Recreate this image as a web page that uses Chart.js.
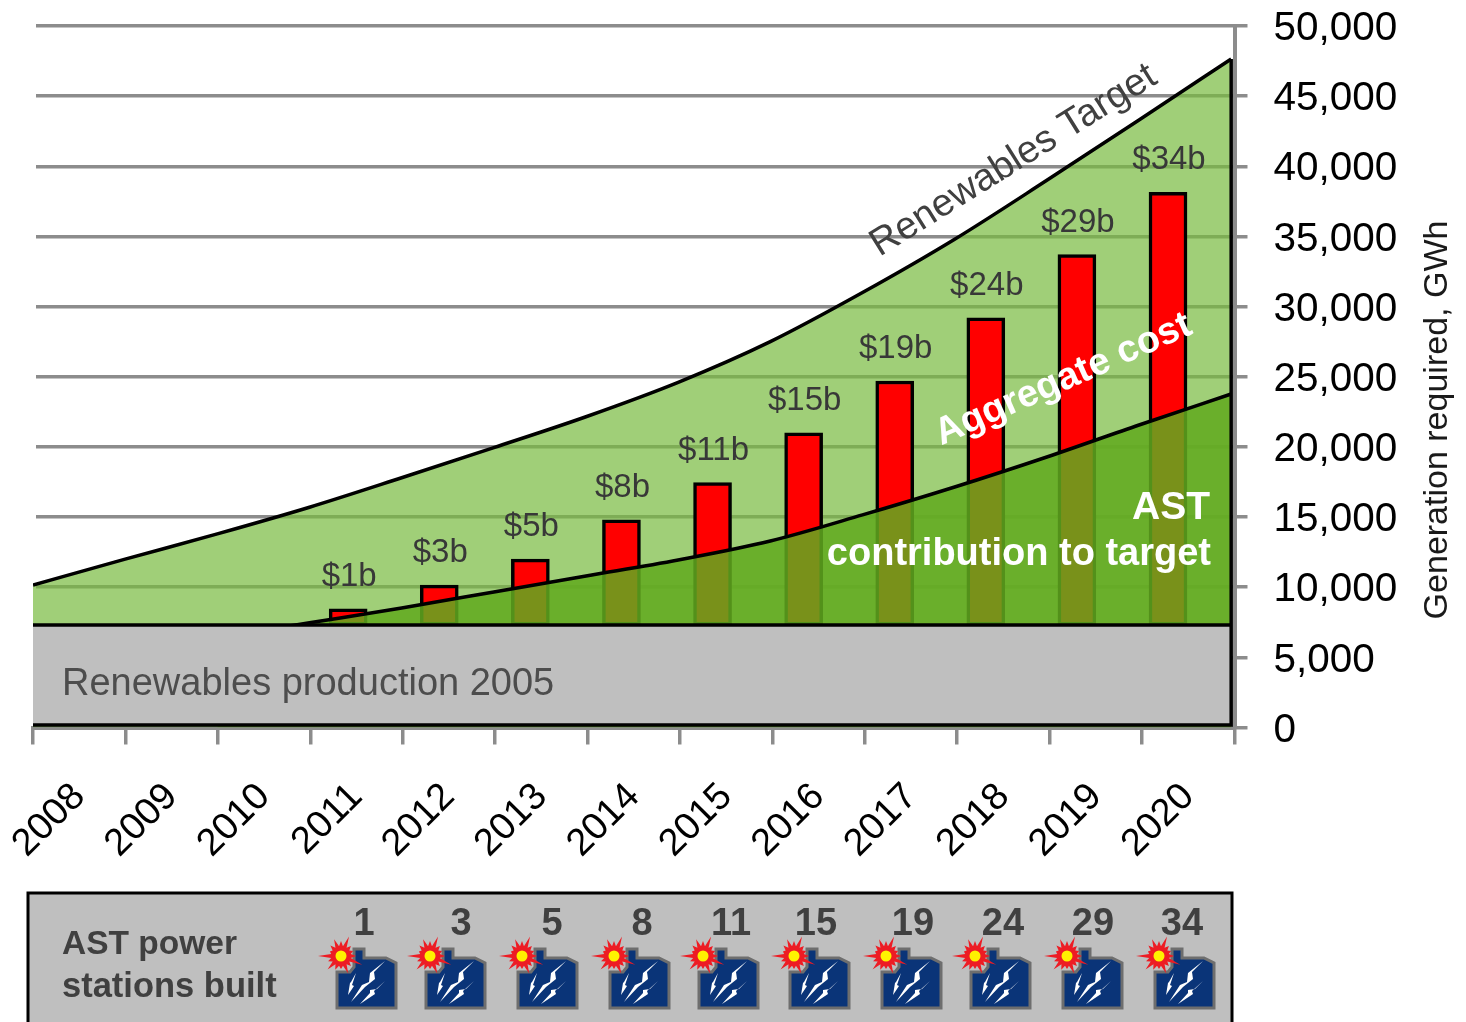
<!DOCTYPE html>
<html>
<head>
<meta charset="utf-8">
<title>AST contribution to renewables target</title>
<script src="https://cdn.jsdelivr.net/npm/chart.js@4"></script>
<style>
  html, body { margin: 0; padding: 0; background: #fff; }
  canvas { display: block; }
</style>
</head>
<body>
<canvas id="chart" width="1466" height="1022"></canvas>
<script>
const yearLabels = ["2008", "2009", "2010", "2011", "2012", "2013", "2014", "2015", "2016", "2017", "2018", "2019", "2020"];

// curves are read at the year boundaries, 2008 to 2021
const curveYears = [2008, 2009, 2010, 2011, 2012, 2013, 2014, 2015, 2016, 2017, 2018, 2019, 2020, 2021];
const targetValues = [10150, 12000, 13800, 15700, 17800, 19950, 22150, 24600, 27500, 31000, 34800, 39000, 43300, 47650];
const astValues = [null, null, 6400, 7460, 8520, 9660, 10800, 11940, 13290, 15150, 17140, 19280, 21560, 23770];
const baseProduction = 7300;
const baseFloor = 180;

const barYears = [2011, 2012, 2013, 2014, 2015, 2016, 2017, 2018, 2019, 2020];
const barTops = [8450, 10150, 12000, 14800, 17450, 21000, 24700, 29200, 33700, 38150];
const costLabels = ["$1b", "$3b", "$5b", "$8b", "$11b", "$15b", "$19b", "$24b", "$29b", "$34b"];
const stationCounts = ["1", "3", "5", "8", "11", "15", "19", "24", "29", "34"];

const FONT = '"Liberation Sans", Arial, sans-serif';
const GRID = "#8c8c8c";
const TEXT = "#404040";

function points(years, values) {
  return years.map((x, i) => ({ x: x, y: values[i] }));
}

function label(ctx, text, x, y, font, color, angle, align) {
  ctx.save();
  ctx.translate(x, y);
  ctx.rotate((angle || 0) * Math.PI / 180);
  ctx.font = font + " " + FONT;
  ctx.fillStyle = color;
  ctx.textAlign = align || "left";
  ctx.textBaseline = "middle";
  ctx.fillText(text, 0, 0);
  ctx.restore();
}

function poly(ctx, x, y, pts) {
  ctx.beginPath();
  pts.forEach((p, i) => {
    if (i === 0) ctx.moveTo(x + p[0], y + p[1]);
    else ctx.lineTo(x + p[0], y + p[1]);
  });
  ctx.closePath();
}

// power station icon: x,y is the top left of the building
function drawStation(ctx, x, y) {
  poly(ctx, x, y, [[17, 0], [27, 0], [27, 9], [49, 9], [59, 14], [59, 59], [0, 59], [0, 23], [13, 23], [17, 18]]);
  ctx.fillStyle = "#0a3478";
  ctx.fill();
  ctx.strokeStyle = "#6e6e6e";
  ctx.lineWidth = 3;
  ctx.stroke();

  ctx.fillStyle = "#fff";
  poly(ctx, x, y, [[48, 12], [37, 23], [38, 30], [28, 38], [14, 53], [25, 36], [32, 33], [33, 24]]);
  ctx.fill();
  poly(ctx, x, y, [[48, 32], [37, 42], [38, 45], [23, 55], [33, 44], [33, 41], [40, 40]]);
  ctx.fill();
  poly(ctx, x, y, [[19, 24], [15, 36], [17, 37], [11, 46], [13, 34], [14, 33]]);
  ctx.fill();

  // the red burst on the corner
  const spikes = [23, 12, 15, 18, 15, 21, 14, 13, 15, 23, 14, 19, 13, 15, 19, 14];
  const cx = x + 4, cy = y + 7;
  ctx.beginPath();
  spikes.forEach((r, i) => {
    const a1 = (i / spikes.length) * Math.PI * 2 + Math.PI;
    const a2 = ((i + 0.5) / spikes.length) * Math.PI * 2 + Math.PI;
    ctx.lineTo(cx + Math.cos(a1) * r, cy + Math.sin(a1) * r);
    ctx.lineTo(cx + Math.cos(a2) * 10, cy + Math.sin(a2) * 10);
  });
  ctx.closePath();
  ctx.fillStyle = "#ed1c24";
  ctx.fill();
  ctx.beginPath();
  ctx.arc(cx, cy, 5.5, 0, Math.PI * 2);
  ctx.fillStyle = "#fff200";
  ctx.fill();
}

const annotations = {
  id: "annotations",
  beforeDatasetsDraw(chart) {
    // gridlines start a few pixels in from the area edge
    chart.ctx.fillStyle = "#fff";
    chart.ctx.fillRect(30, 20, 6, 600);
  },
  afterDraw(chart) {
    const ctx = chart.ctx;
    const bars = chart.getDatasetMeta(2).data;

    bars.forEach((bar, i) => {
      label(ctx, costLabels[i], bar.x + 1, bar.y - 32, "33px", "#383838", 0, "center");
    });

    label(ctx, "Renewables production 2005", 62, 685, "38px", "#4d4d4d");
    label(ctx, "Renewables Target", 874, 248, "38.5px", TEXT, -32);
    label(ctx, "Aggregate cost", 937, 436, "bold 38px", "#fff", -24);
    label(ctx, "AST", 1210, 508, "bold 39px", "#fff", 0, "right");
    label(ctx, "contribution to target", 1211, 555, "bold 38px", "#fff", 0, "right");
    label(ctx, "Generation required, GWh", 1438, 420, "34px", "#1a1a1a", -90, "center");

    // panel under the chart
    ctx.fillStyle = "#bfbfbf";
    ctx.fillRect(28, 893, 1204, 132);
    ctx.strokeStyle = "#000";
    ctx.lineWidth = 3;
    ctx.strokeRect(28, 893, 1204, 132);
    label(ctx, "AST power", 62, 945, "bold 33.5px", TEXT);
    label(ctx, "stations built", 62, 987, "bold 34.5px", TEXT);

    const iconX = [337, 426, 518, 610, 699, 790, 882, 971, 1063, 1155];
    const countX = [364, 461, 552, 642, 731, 816, 913, 1003, 1093, 1182];
    stationCounts.forEach((n, i) => {
      label(ctx, n, countX[i], 925, "bold 38px", TEXT, 0, "center");
      drawStation(ctx, iconX[i], 949);
    });
  }
};

new Chart(document.getElementById("chart"), {
  data: {
    labels: yearLabels,
    datasets: [
      {
        type: "line",
        label: "Renewables Target",
        xAxisID: "xLine",
        data: points(curveYears, targetValues),
        borderColor: "#000",
        borderWidth: 3.5,
        backgroundColor: "rgba(119,186,62,0.7)",
        fill: "origin",
        pointRadius: 0,
        cubicInterpolationMode: "monotone",
        order: 5
      },
      {
        type: "line",
        label: "AST contribution to target",
        xAxisID: "xLine",
        data: points(curveYears, astValues),
        borderColor: "#000",
        borderWidth: 3.5,
        backgroundColor: "rgba(98,170,30,0.85)",
        fill: "origin",
        pointRadius: 0,
        cubicInterpolationMode: "monotone",
        order: 3
      },
      {
        type: "bar",
        label: "Aggregate cost",
        xAxisID: "xBar",
        data: barYears.map((x, i) => ({ x: x, y: [baseProduction, barTops[i]] })),
        backgroundColor: "#ff0000",
        borderColor: "#000",
        borderWidth: 3.5,
        borderSkipped: false,
        barThickness: 38,
        grouped: false,
        order: 4
      },
      {
        type: "line",
        label: "Renewables production 2005",
        xAxisID: "xLine",
        data: [{ x: 2008, y: baseProduction }, { x: 2021, y: baseProduction }],
        borderColor: "#000",
        borderWidth: 3.5,
        backgroundColor: "#bfbfbf",
        fill: { value: baseFloor },
        pointRadius: 0,
        order: 2
      },
      {
        type: "line",
        label: "Right edge and floor",
        xAxisID: "xLine",
        data: [
          { x: 2021, y: targetValues[targetValues.length - 1] },
          { x: 2021, y: baseFloor },
          { x: 2008, y: baseFloor }
        ],
        borderColor: "#000",
        borderWidth: 3.5,
        fill: false,
        pointRadius: 0,
        order: 1
      }
    ]
  },
  options: {
    responsive: false,
    animation: false,
    layout: { padding: { left: 33, top: 26, right: 0, bottom: 0 } },
    plugins: { legend: { display: false }, tooltip: { enabled: false } },
    scales: {
      x: {
        type: "category",
        labels: yearLabels,
        offset: true,
        grid: { offset: true, drawOnChartArea: false, color: GRID, lineWidth: 3.5, tickLength: 17 },
        border: { color: GRID, width: 4 },
        ticks: {
          minRotation: 45,
          maxRotation: 45,
          padding: 30,
          autoSkip: false,
          color: "#000",
          font: { family: FONT, size: 38 }
        },
        afterFit(scale) {
          scale.height = 1022 - 727.5;
          scale.paddingLeft = 0;
          scale.paddingRight = 0;
        }
      },
      xLine: { type: "linear", display: false, min: 2008, max: 2021.036 },
      xBar: { type: "linear", display: false, offset: false, min: 2007.54, max: 2020.73 },
      y: {
        position: "right",
        min: 0,
        max: 50000,
        grid: { color: GRID, lineWidth: 3.5, tickLength: 13 },
        border: { color: GRID, width: 4 },
        ticks: {
          stepSize: 5000,
          padding: 26,
          labelOffset: 3,
          color: "#000",
          font: { family: FONT, size: 40.5 },
          callback: v => v.toLocaleString("en-US")
        },
        afterFit(scale) {
          scale.width = 1466 - 1234.5;
          scale.paddingTop = 0;
          scale.paddingBottom = 0;
        }
      }
    }
  },
  plugins: [annotations]
});
</script>
</body>
</html>
